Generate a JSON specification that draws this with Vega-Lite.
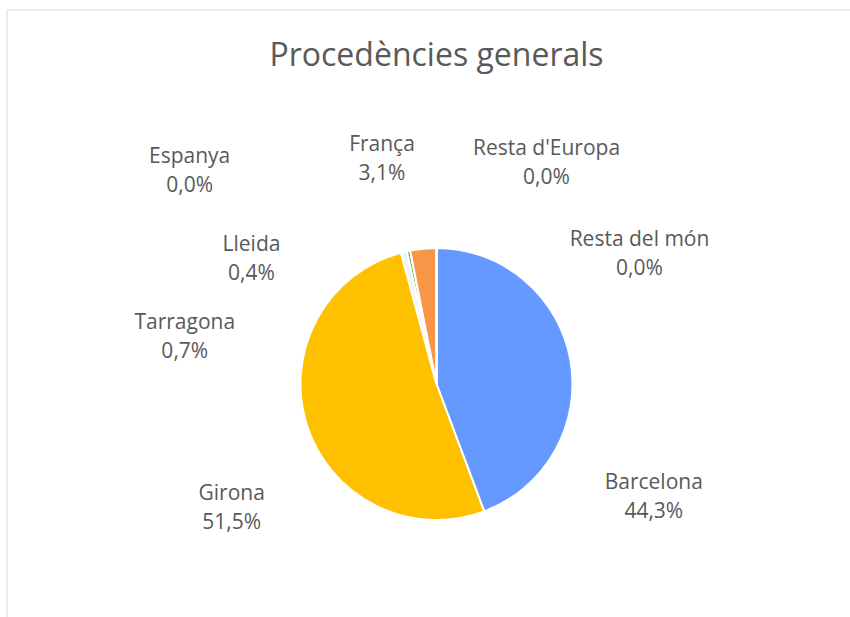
{
  "$schema": "https://vega.github.io/schema/vega-lite/v6.json",
  "width": 860,
  "height": 749,
  "autosize": {"type": "none"},
  "padding": {"left": 6.5, "top": 9.5, "right": 0, "bottom": 0},
  "background": "white",
  "view": {"stroke": "#D9D9D9", "strokeWidth": 1, "fill": "white"},
  "config": {"font": "Open Sans"},
  "title": {"text": "Procedències generals", "font": "Open Sans", "fontSize": 32, "fontWeight": "normal", "color": "#595959", "anchor": "middle", "baseline": "alphabetic", "offset": -88},
  "data": {"values": [
    {"cat": "Barcelona", "v": 0.443, "ord": 1},
    {"cat": "Girona", "v": 0.515, "ord": 2},
    {"cat": "Tarragona", "v": 0.007, "ord": 3},
    {"cat": "Lleida", "v": 0.004, "ord": 4},
    {"cat": "Espanya", "v": 0.0, "ord": 5},
    {"cat": "França", "v": 0.031, "ord": 6},
    {"cat": "Resta d'Europa", "v": 0.0, "ord": 7},
    {"cat": "Resta del món", "v": 0.0, "ord": 8}
  ]},
  "transform": [
    {"stack": "v", "groupby": [], "sort": [{"field": "ord", "order": "ascending"}], "as": ["v0", "v1"]},
    {"calculate": "(datum.v0 + datum.v1) / 2", "as": "mid"},
    {"calculate": "datum.cat + '\\n' + replace(format(datum.v, '.1%'), '.', ',')", "as": "label"}
  ],
  "layer": [
    {
      "mark": {"type": "arc", "outerRadius": 136, "stroke": "white", "strokeWidth": 2},
      "encoding": {
        "theta": {"field": "v0", "type": "quantitative", "stack": null, "scale": {"domain": [0, 1]}},
        "theta2": {"field": "v1"},
        "color": {"field": "cat", "type": "nominal", "legend": null,
          "scale": {"domain": ["Barcelona", "Girona", "Tarragona", "Lleida", "Espanya", "França", "Resta d'Europa", "Resta del món"],
                    "range": ["#6699FF", "#FFC000", "#F2F2F2", "#70AD47", "#A5A5A5", "#F79646", "#4472C4", "#5B9BD5"]}}
      }
    },
    {
      "transform": [{"filter": "datum.cat === 'Barcelona'"}],
      "mark": {"type": "text", "radius": 170, "dx": 50, "dy": 129, "align": "center", "baseline": "middle", "lineBreak": "\n", "lineHeight": 29, "fontSize": 21, "font": "Open Sans", "color": "#595959"},
      "encoding": {"theta": {"field": "mid", "type": "quantitative", "stack": null, "scale": {"domain": [0, 1]}}, "text": {"field": "label"}}
    },
    {
      "transform": [{"filter": "datum.cat === 'Girona'"}],
      "mark": {"type": "text", "radius": 170, "dx": -43, "dy": 58, "align": "center", "baseline": "middle", "lineBreak": "\n", "lineHeight": 29, "fontSize": 21, "font": "Open Sans", "color": "#595959"},
      "encoding": {"theta": {"field": "mid", "type": "quantitative", "stack": null, "scale": {"domain": [0, 1]}}, "text": {"field": "label"}}
    },
    {
      "transform": [{"filter": "datum.cat === 'Tarragona'"}],
      "mark": {"type": "text", "radius": 170, "dx": -211, "dy": 104, "align": "center", "baseline": "middle", "lineBreak": "\n", "lineHeight": 29, "fontSize": 21, "font": "Open Sans", "color": "#595959"},
      "encoding": {"theta": {"field": "mid", "type": "quantitative", "stack": null, "scale": {"domain": [0, 1]}}, "text": {"field": "label"}}
    },
    {
      "transform": [{"filter": "datum.cat === 'Lleida'"}],
      "mark": {"type": "text", "radius": 170, "dx": -150, "dy": 27, "align": "center", "baseline": "middle", "lineBreak": "\n", "lineHeight": 29, "fontSize": 21, "font": "Open Sans", "color": "#595959"},
      "encoding": {"theta": {"field": "mid", "type": "quantitative", "stack": null, "scale": {"domain": [0, 1]}}, "text": {"field": "label"}}
    },
    {
      "transform": [{"filter": "datum.cat === 'Espanya'"}],
      "mark": {"type": "text", "radius": 170, "dx": -214, "dy": -60, "align": "center", "baseline": "middle", "lineBreak": "\n", "lineHeight": 29, "fontSize": 21, "font": "Open Sans", "color": "#595959"},
      "encoding": {"theta": {"field": "mid", "type": "quantitative", "stack": null, "scale": {"domain": [0, 1]}}, "text": {"field": "label"}}
    },
    {
      "transform": [{"filter": "datum.cat === 'França'"}],
      "mark": {"type": "text", "radius": 170, "dx": -38, "dy": -70, "align": "center", "baseline": "middle", "lineBreak": "\n", "lineHeight": 29, "fontSize": 21, "font": "Open Sans", "color": "#595959"},
      "encoding": {"theta": {"field": "mid", "type": "quantitative", "stack": null, "scale": {"domain": [0, 1]}}, "text": {"field": "label"}}
    },
    {
      "transform": [{"filter": "datum.cat === \"Resta d'Europa\""}],
      "mark": {"type": "text", "radius": 170, "dx": 110, "dy": -65, "align": "center", "baseline": "middle", "lineBreak": "\n", "lineHeight": 29, "fontSize": 21, "font": "Open Sans", "color": "#595959"},
      "encoding": {"theta": {"field": "mid", "type": "quantitative", "stack": null, "scale": {"domain": [0, 1]}}, "text": {"field": "label"}}
    },
    {
      "transform": [{"filter": "datum.cat === 'Resta del món'"}],
      "mark": {"type": "text", "radius": 170, "dx": 203, "dy": 26, "align": "center", "baseline": "middle", "lineBreak": "\n", "lineHeight": 29, "fontSize": 21, "font": "Open Sans", "color": "#595959"},
      "encoding": {"theta": {"field": "mid", "type": "quantitative", "stack": null, "scale": {"domain": [0, 1]}}, "text": {"field": "label"}}
    }
  ]
}
